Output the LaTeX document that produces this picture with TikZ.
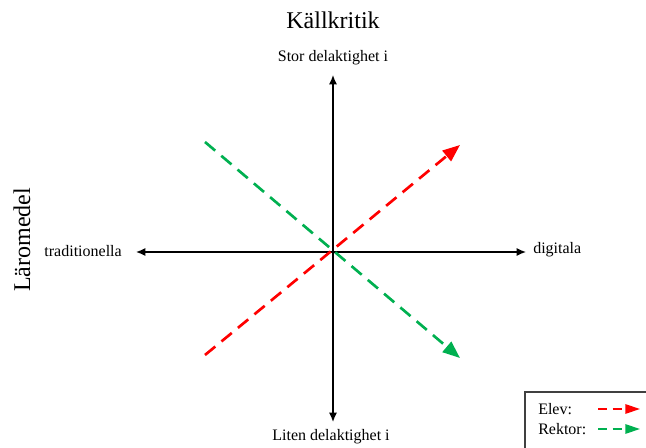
\documentclass[tikz,border=0pt]{standalone}
\usepackage{fontspec}
\setmainfont{Liberation Serif}
\usepackage{tikz}
\usetikzlibrary{arrows.meta}
\definecolor{elevred}{RGB}{255,0,0}
\definecolor{rektorgreen}{RGB}{0,176,80}

\begin{document}
\begin{tikzpicture}[x=0.75pt, y=-0.75pt,
    axis/.style={line width=1pt, -{Latex[length=7pt, width=6pt]}},
    trend/.style={line width=2pt, dash pattern=on 10pt off 6pt, -{Triangle[length=13pt, width=10pt]}},
    lbl/.style={font=\fontsize{12}{14}\selectfont, inner sep=0pt}]
        \useasboundingbox (0,0) rectangle (646,448);
        % axes
        \coordinate (ctr) at (333,252);
        \coordinate (top) at (333,75);
        \coordinate (bot) at (333,422);
        \coordinate (lft) at (136,252);
        \coordinate (rgt) at (526,252);
        \draw[axis] (ctr) -- (top);
        \draw[axis] (ctr) -- (bot);
        \draw[axis] (ctr) -- (lft);
        \draw[axis] (ctr) -- (rgt);
        \node[font=\fontsize{18}{20}\selectfont] (title) at (333,20) {Källkritik};
        \node[font=\fontsize{18}{20}\selectfont, rotate=90] (yname) at (22,240) {Läromedel};
        \node[lbl] (stor) at (333,58) {Stor delaktighet i};
        \node[lbl] (liten) at (331,437) {Liten delaktighet i};
        \node[lbl, anchor=east] (trad) at (122,251) {traditionella};
        \node[lbl, anchor=west] (dig) at (533,250) {digitala};
        % trends
        \coordinate (e0) at (205,355);
        \coordinate (e1) at (460,145);
        \coordinate (r0) at (205,142);
        \coordinate (r1) at (460,358);
        \draw[trend, rektorgreen] (r0) -- (r1);
        \draw[trend, elevred] (e0) -- (e1);
        % legend
        \draw[line width=1pt, black!75] (525,449) -- (525,392) -- (647,392);
        \node[lbl, anchor=west] (elev) at (538,409) {Elev:};
        \node[lbl, anchor=west] (rektor) at (538,429) {Rektor:};
        \coordinate (le0) at (598,409);
        \coordinate (le1) at (640,409);
        \coordinate (lr0) at (598,429);
        \coordinate (lr1) at (640,429);
        \draw[elevred, line width=1.5pt, dash pattern=on 7pt off 4pt, -{Triangle[length=11pt, width=7pt]}] (le0) -- (le1);
        \draw[rektorgreen, line width=1.5pt, dash pattern=on 7pt off 4pt, -{Triangle[length=11pt, width=7pt]}] (lr0) -- (lr1);
\end{tikzpicture}
\end{document}
